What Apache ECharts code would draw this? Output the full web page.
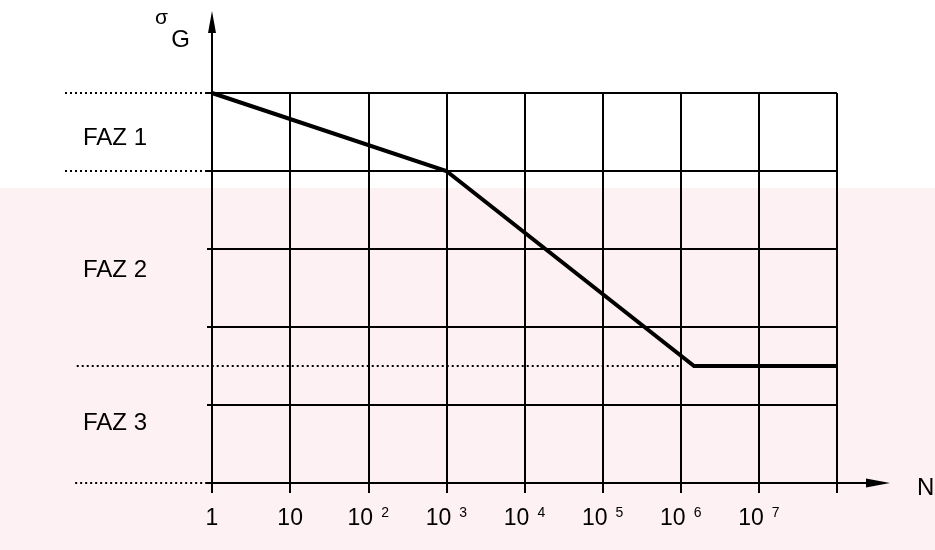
<!DOCTYPE html>
<html>
<head>
<meta charset="utf-8">
<script src="https://cdn.jsdelivr.net/npm/echarts@6/dist/echarts.min.js"></script>
<style>
  html, body { margin: 0; padding: 0; background: #ffffff; }
  #chart { width: 935px; height: 550px; }
</style>
</head>
<body>
<div id="chart"></div>
<script>
// ---- data ----
// x positions are decades of N: 0 -> 1, 1 -> 10, 2 -> 10^2 ...
const tickBase = ['1', '10', '10', '10', '10', '10', '10', '10', ''];
const tickExp  = ['',  '',   '2',  '3',  '4',  '5',  '6',  '7',  ''];
// S-N curve (log N, stress level)
const curveX = [0, 3, 6.17, 8];
const curveY = [5, 4, 1.5, 1.5];
// dotted reference levels
const refLevels = [5, 4, 1.5, 0];
const refStarts = [-1.88, -1.88, -1.73, -1.75];
const refEnds   = [0, 0, 6, 0];
// phase labels
const phaseNames = ['FAZ 1', 'FAZ 2', 'FAZ 3'];
const phaseX = [-1.65, -1.65, -1.65];
const phaseY = [4.42, 2.72, 0.76];

const FONT = "'Liberation Sans', Arial, Helvetica, sans-serif";

const chart = echarts.init(document.getElementById('chart'));

const series = [];
series.push({
  type: 'line',
  xAxisIndex: 0, yAxisIndex: 0,
  data: curveX.map((x, i) => [x, curveY[i]]),
  symbol: 'none',
  lineStyle: { color: '#000', width: 4, join: 'miter' },
  z: 5,
  silent: true
});
refLevels.forEach((lv, i) => {
  series.push({
    type: 'line',
    xAxisIndex: 2, yAxisIndex: 2,
    data: [[refStarts[i], lv], [refEnds[i], lv]],
    symbol: 'none',
    lineStyle: { color: '#000', width: 2, type: [2, 3] },
    z: 3,
    silent: true
  });
});
series.push({
  type: 'scatter',
  xAxisIndex: 2, yAxisIndex: 2,
  clip: false,
  symbolSize: 0,
  itemStyle: { opacity: 1 },
  data: phaseNames.map((n, i) => [phaseX[i], phaseY[i], n]),
  label: {
    show: true,
    position: 'inside',
    align: 'left',
    verticalAlign: 'middle',
    formatter: p => p.data[2],
    color: '#000',
    opacity: 1,
    fontSize: 24,
    fontFamily: FONT
  },
  silent: true
});

const option = {
  backgroundColor: '#ffffff',
  animation: false,
  graphic: [{
    type: 'rect',
    z: -100,
    silent: true,
    shape: { x: 0, y: 188, width: 935, height: 362 },
    style: { fill: '#fef1f4' }
  }],
  grid: [
    { left: 212, top: 93, width: 625, height: 390, outerBoundsMode: 'none', containLabel: false },
    { left: 212, top: 22, right: 57, bottom: 67, outerBoundsMode: 'none', containLabel: false },
    { left: 65, top: 93, width: 772, height: 390, outerBoundsMode: 'none', containLabel: false }
  ],
  xAxis: [
    {
      type: 'value', gridIndex: 0, min: 0, max: 8, interval: 1,
      axisLine: { show: false },
      axisTick: { show: true, length: 10, lineStyle: { color: '#000', width: 2 } },
      splitLine: { show: true, lineStyle: { color: '#000', width: 2 } },
      axisLabel: {
        show: true, margin: 23, showMinLabel: true, showMaxLabel: true,
        formatter: v => {
          const i = Math.round(v);
          const b = tickBase[i] || '';
          const e = tickExp[i] || '';
          if (!b) return '';
          return e ? '{n|' + b + '}{e|' + e + '}' : '{n|' + b + '}';
        },
        rich: {
          n: { fontSize: 23, lineHeight: 24, color: '#000', fontFamily: FONT, padding: [9, 0, 0, 0], verticalAlign: 'bottom' },
          e: { fontSize: 14, lineHeight: 6, verticalAlign: 'top', color: '#000', fontFamily: FONT, padding: [0, 0, 0, 8] }
        }
      }
    },
    {
      type: 'value', gridIndex: 1, min: 0, max: 1,
      axisLine: { show: true, symbol: ['none', 'triangle'], symbolSize: [9, 24], lineStyle: { color: '#000', width: 2 } },
      axisTick: { show: false }, axisLabel: { show: false }, splitLine: { show: false },
      name: '{n|N}', nameLocation: 'end', nameGap: 39,
      nameTextStyle: {
        verticalAlign: 'middle', align: 'left',
        rich: { n: { fontSize: 24, lineHeight: 24, color: '#000', fontFamily: FONT, padding: [11, 0, 0, 0] } }
      }
    },
    {
      type: 'value', gridIndex: 2, min: -1.88, max: 8,
      show: false
    }
  ],
  yAxis: [
    {
      type: 'value', gridIndex: 0, min: 0, max: 5, interval: 1,
      axisLine: { show: false },
      axisTick: { show: true, length: 5, lineStyle: { color: '#000', width: 2 } },
      splitLine: { show: true, lineStyle: { color: '#000', width: 2 } },
      axisLabel: { show: false }
    },
    {
      type: 'value', gridIndex: 1, min: 0, max: 1,
      axisLine: { show: true, symbol: ['none', 'triangle'], symbolSize: [8, 22], lineStyle: { color: '#000', width: 2 } },
      axisTick: { show: false }, axisLabel: { show: false }, splitLine: { show: false },
      name: '{s|σ}\n{g|G}', nameLocation: 'end', nameGap: 14,
      nameTextStyle: {
        align: 'right', verticalAlign: 'top', padding: [0, 22, 0, 0],
        rich: {
          s: { fontSize: 21, lineHeight: 20, color: '#000', fontFamily: FONT, padding: [0, 22, 0, 0] },
          g: { fontSize: 24, lineHeight: 24, color: '#000', fontFamily: FONT }
        }
      }
    },
    {
      type: 'value', gridIndex: 2, min: 0, max: 5,
      show: false
    }
  ],
  series: series
};
chart.setOption(option);
</script>
</body>
</html>
